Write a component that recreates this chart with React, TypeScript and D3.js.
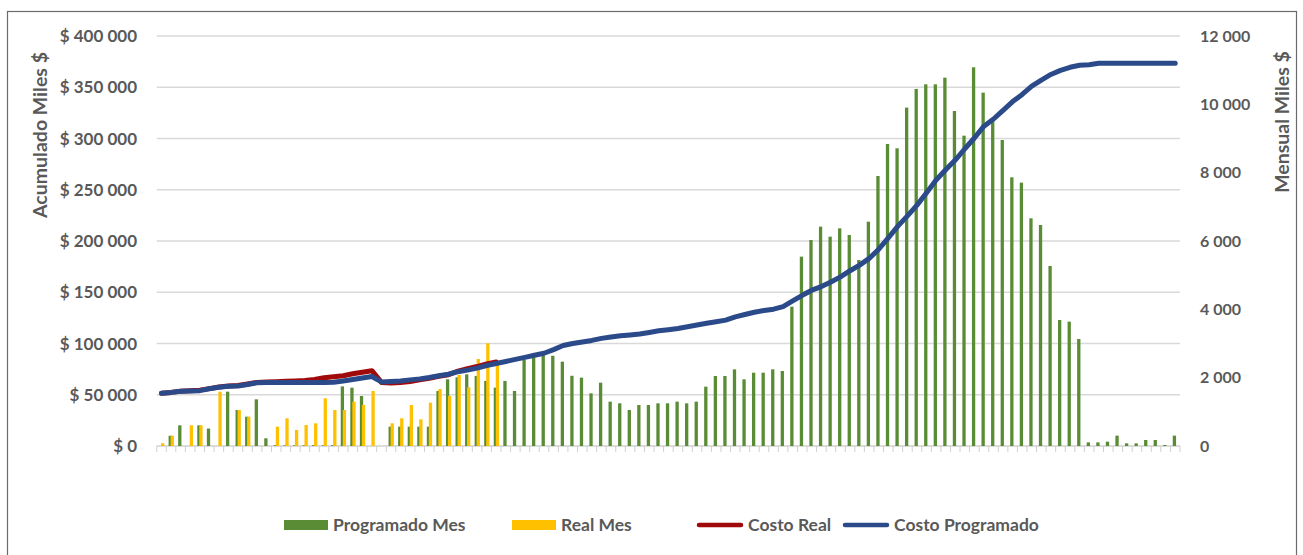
import React, { useEffect } from "react";
import * as d3 from "d3";

// Monthly programmed cost (Miles $), one value per month
const programadoMes: number[] = [
  0, 300, 605, 0, 605, 510, 0, 1590, 1054, 858, 1366, 225,
  25, 20, 20, 20, 25, 20, 25, 1745, 1707, 1464, 0, 0,
  565, 565, 565, 565, 565, 1610, 1952, 2010, 2098, 2050, 1905, 1707,
  1905, 1610, 2517, 2605, 2654, 2640, 2468, 2055, 2000, 1542, 1853, 1298,
  1249, 1054, 1200, 1200, 1249, 1249, 1298, 1249, 1298, 1737, 2049, 2049,
  2244, 1951, 2146, 2146, 2244, 2195, 4078, 5542, 6030, 6420, 6127, 6371,
  6176, 5444, 6566, 7903, 8840, 8713, 9903, 10450, 10586, 10586, 10781, 9805,
  9083, 11084, 10342, 9493, 8957, 7864, 7708, 6664, 6469, 5269, 3688, 3639,
  3132, 107, 107, 127, 303, 78, 78, 176, 176, 29, 303,
];

// Monthly actual cost (Miles $), reported months only
const realMes: number[] = [
  80, 300, 0, 605, 605, 0, 1590, 0, 1054, 858, 0, 0,
  565, 810, 468, 615, 664, 1396, 1054, 1054, 1297, 1200, 1610, 0,
  664, 810, 1200, 780, 1268, 1668, 1464, 2078, 1717, 2546, 3005, 2450,
];

// Cumulative programmed cost (Miles $)
const costoProgramado: number[] = [
  51500, 52300, 53500, 53700, 54000, 55800, 57300, 58300, 58500, 60000,
  61800, 62000, 62000, 62000, 62000, 62000, 62000, 62000, 62200, 63500,
  64800, 66300, 67800, 62500, 63000, 63500, 64500, 65500, 66800, 68500,
  70000, 72500, 74000, 76000, 78500, 80500, 82500, 84500, 86500, 88500,
  90500, 94000, 98000, 100000, 101500, 103000, 105000, 106400, 107500, 108300,
  109300, 110800, 112400, 113500, 114700, 116300, 118000, 119700, 121200, 122800,
  126000, 128300, 130500, 132200, 133500, 136000, 141500, 147000, 152000, 155500,
  160000, 165000, 171000, 176500, 183000, 192000, 203000, 214500, 224500, 235000,
  247000, 259500, 269500, 279000, 290000, 300500, 312000, 319000, 327500, 336000,
  343000, 351000, 357000, 362500, 366500, 369500, 371500, 372000, 373400, 373400,
  373400, 373400, 373400, 373400, 373400, 373400, 373400,
];

// Cumulative actual cost (Miles $)
const costoReal: number[] = [
  51500, 52300, 53500, 54000, 54500, 56000, 57500, 58500, 59000, 60500,
  62000, 62500, 62800, 63200, 63500, 64000, 65000, 66500, 67500, 68500,
  70500, 72000, 73500, 62000, 61500, 62000, 62800, 64500, 66000, 68000,
  69500, 73000, 75500, 77500, 80000, 82000,
];

const leftTicks: number[] = [0, 50000, 100000, 150000, 200000, 250000, 300000, 350000, 400000];
const rightTicks: number[] = [0, 2000, 4000, 6000, 8000, 10000, 12000];

const GREEN = "#5A8C36";
const YELLOW = "#FFC000";
const RED = "#A00A0A";
const BLUE = "#2B4A8A";
const TEXT = "#595959";
const FONT = "Lato, 'Liberation Sans', sans-serif";

const legendItems = [
  { label: "Programado Mes", color: GREEN, kind: "rect", x: 284 },
  { label: "Real Mes", color: YELLOW, kind: "rect", x: 512 },
  { label: "Costo Real", color: RED, kind: "line", x: 699 },
  { label: "Costo Programado", color: BLUE, kind: "line", x: 845 },
];

const W = 1303;
const H = 555;
const M = { left: 156.7, right: 1180, top: 36, bottom: 446 };

const spaced = (v: number) => d3.format(",")(v).replace(/,/g, " ");

export default function App() {
  useEffect(() => {
    document.body.style.margin = "0";
  }, []);

  const idx = programadoMes.map((_, i) => i);
  const x = d3.scaleBand<number>().domain(idx).range([M.left, M.right]).padding(0);
  const cx = (i: number) => (x(i) as number) + x.bandwidth() / 2;
  const yL = d3.scaleLinear().domain([0, 400000]).range([M.bottom, M.top]);
  const yR = d3.scaleLinear().domain([0, 12000]).range([M.bottom, M.top]);

  const barW = 3.3;
  const line = d3
    .line<number>()
    .x((_, i) => cx(i))
    .y((d) => yL(d))
    .curve(d3.curveLinear);

  const legendY = 525;

  return (
    <svg
      width={W}
      height={H}
      style={{ position: "absolute", left: 0, top: 0, background: "#fff" }}
      fontFamily={FONT}
    >
      <rect x={0} y={0} width={W} height={H} fill="#fff" />
      {/* chart frame */}
      <rect x={7.5} y={11.5} width={1289} height={560} fill="none" stroke="#6b6b6b" strokeWidth={1.2} />

      {/* gridlines */}
      {leftTicks.slice(1).map((t) => (
        <line key={t} x1={M.left} x2={M.right} y1={yL(t)} y2={yL(t)} stroke="#D9D9D9" strokeWidth={1.3} />
      ))}
      {/* category axis */}
      <line x1={M.left} x2={M.right} y1={M.bottom} y2={M.bottom} stroke="#D0D0D0" strokeWidth={1.3} />
      {idx.concat([idx.length]).map((i) => {
        const xx = i < idx.length ? (x(i) as number) : M.right;
        return <line key={"t" + i} x1={xx} x2={xx} y1={M.bottom} y2={M.bottom + 6} stroke="#D0D0D0" strokeWidth={1} />;
      })}

      {/* monthly bars */}
      {programadoMes.map((v, i) =>
        v > 0 ? (
          <rect
            key={"g" + i}
            x={cx(i) - 0.8 - barW / 2}
            y={yR(v)}
            width={barW}
            height={M.bottom - yR(v)}
            fill={GREEN}
          />
        ) : null
      )}
      {realMes.map((v, i) =>
        v > 0 ? (
          <rect
            key={"y" + i}
            x={cx(i) + 1.2 - barW / 2}
            y={yR(v)}
            width={barW}
            height={M.bottom - yR(v)}
            fill={YELLOW}
          />
        ) : null
      )}

      {/* cumulative lines */}
      <path d={line(costoReal) || ""} fill="none" stroke={RED} strokeWidth={5} strokeLinejoin="round" strokeLinecap="round" />
      <path d={line(costoProgramado) || ""} fill="none" stroke={BLUE} strokeWidth={5} strokeLinejoin="round" strokeLinecap="round" />

      {/* left axis labels */}
      {leftTicks.map((t) => (
        <text key={"l" + t} x={137} y={yL(t)} dy="0.36em" textAnchor="end" fontSize={17} fontWeight={700} fill={TEXT}>
          {"$ " + spaced(t)}
        </text>
      ))}
      {/* right axis labels */}
      {rightTicks.map((t) => (
        <text key={"r" + t} x={1200} y={yR(t)} dy="0.36em" textAnchor="start" fontSize={16} fontWeight={700} fill={TEXT}>
          {spaced(t)}
        </text>
      ))}

      {/* axis titles */}
      <text
        transform={`translate(40,135) rotate(-90)`}
        textAnchor="middle"
        dy="0.36em"
        fontSize={19.5}
        fontWeight={700}
        fill={TEXT}
      >
        Acumulado Miles $
      </text>
      <text
        transform={`translate(1282,122) rotate(-90)`}
        textAnchor="middle"
        dy="0.36em"
        fontSize={19.5}
        fontWeight={700}
        fill={TEXT}
      >
        Mensual Miles $
      </text>

      {/* legend */}
      {legendItems.map((it) => (
        <g key={it.label}>
          {it.kind === "rect" ? (
            <rect x={it.x} y={legendY - 5} width={44} height={10} fill={it.color} />
          ) : (
            <line x1={it.x} x2={it.x + 42} y1={legendY} y2={legendY} stroke={it.color} strokeWidth={4.5} strokeLinecap="round" />
          )}
          <text x={it.x + 49} y={legendY} dy="0.36em" fontSize={17.5} fontWeight={700} fill={TEXT}>
            {it.label}
          </text>
        </g>
      ))}
    </svg>
  );
}
